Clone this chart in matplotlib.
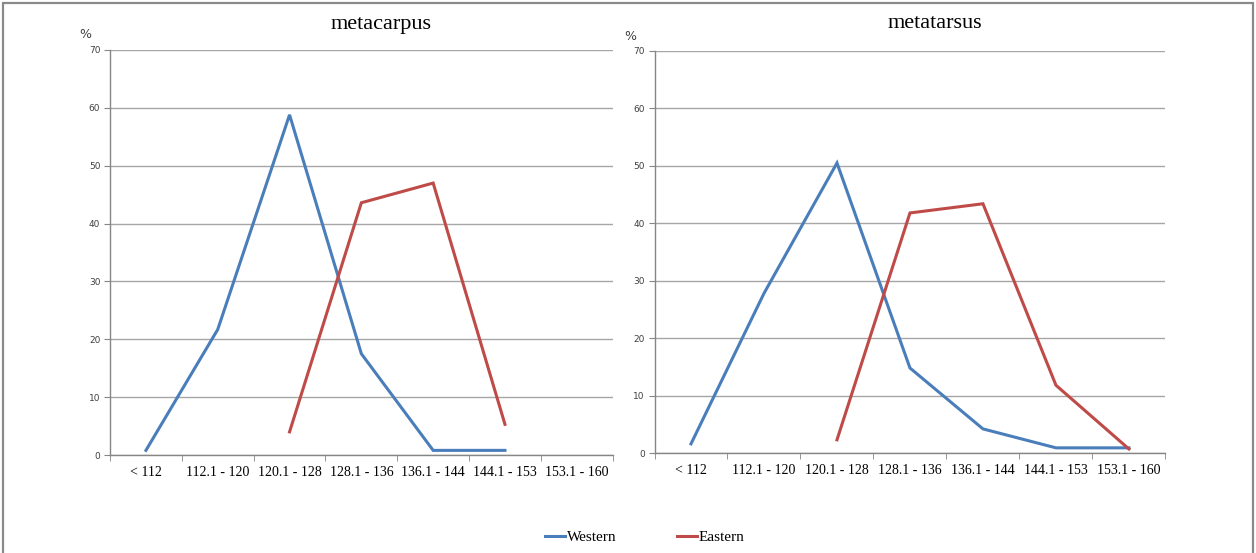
import numpy as np
import matplotlib
matplotlib.use("Agg")
import matplotlib.pyplot as plt
from matplotlib.patches import Rectangle
from matplotlib.lines import Line2D

categories = ['< 112', '112.1 - 120', '120.1 - 128', '128.1 - 136',
              '136.1 - 144', '144.1 - 153', '153.1 - 160']

# percentages per length class (None = no specimens in that class)
carpus_western = [0.8, 21.7, 58.8, 17.5, 0.8, 0.8, None]
carpus_eastern = [None, None, 4.0, 43.6, 47.0, 5.3, None]

tarsus_western = [1.6, 27.8, 50.5, 14.8, 4.2, 0.9, 0.9]
tarsus_eastern = [None, None, 2.3, 41.8, 43.4, 11.8, 0.7]

yticks = [0, 10, 20, 30, 40, 50, 60, 70]

BLUE = '#4a7ebb'
RED = '#be4b48'
GRID = '#a6a6a6'
SERIF = 'Liberation Serif'


def to_arr(vals):
    return np.array([np.nan if v is None else v for v in vals], dtype=float)


def draw_panel(ax, western, eastern):
    x = np.arange(len(categories))
    ax.plot(x, to_arr(western), color=BLUE, lw=2.2, solid_joinstyle='miter')
    ax.plot(x, to_arr(eastern), color=RED, lw=2.2, solid_joinstyle='miter')
    ax.set_xlim(-0.5, len(categories) - 0.5)
    ax.set_ylim(0, 70)
    ax.set_yticks(yticks)
    ax.set_yticklabels([str(t) for t in yticks], fontsize=6.5, color='#404040',
                       family='DejaVu Sans')
    ax.set_xticks(x)
    ax.set_xticklabels(categories, fontsize=10, family=SERIF)
    ax.set_xticks(np.arange(-0.5, len(categories)), minor=True)
    ax.tick_params(axis='x', which='major', length=0, pad=8)
    ax.tick_params(axis='x', which='minor', length=4, color='#868686', direction='out')
    ax.tick_params(axis='y', length=4, color='#868686', pad=3)
    ax.grid(axis='y', color=GRID, lw=1)
    ax.set_axisbelow(True)
    for s in ['top', 'right']:
        ax.spines[s].set_visible(False)
    for s in ['left', 'bottom']:
        ax.spines[s].set_color('#868686')
        ax.spines[s].set_linewidth(1)


fig = plt.figure(figsize=(12.56, 5.53), dpi=100)

ax1 = fig.add_axes([0.0876, 0.1772, 0.4002, 0.7324])
ax2 = fig.add_axes([0.5211, 0.1808, 0.4068, 0.7270])

draw_panel(ax1, carpus_western, carpus_eastern)
draw_panel(ax2, tarsus_western, tarsus_eastern)

fig.text(381 / 1256, 1 - 24 / 553, 'metacarpus', ha='center', va='center',
         fontsize=16, family=SERIF)
fig.text(935 / 1256, 1 - 24 / 553, 'metatarsus', ha='center', va='center',
         fontsize=16, family=SERIF)
fig.text(85 / 1256, 1 - 34 / 553, '%', ha='center', va='center', fontsize=9,
         color='#404040', family='DejaVu Sans')
fig.text(630 / 1256, 1 - 36 / 553, '%', ha='center', va='center', fontsize=9,
         color='#404040', family='DejaVu Sans')

handles = [Line2D([], [], color=BLUE, lw=2.2), Line2D([], [], color=RED, lw=2.2)]
fig.legend(handles, ['Western', 'Eastern'], loc='center', ncol=2,
           bbox_to_anchor=(645 / 1256, 1 - 537 / 553), frameon=False,
           prop={'family': SERIF, 'size': 11}, handlelength=1.3,
           handletextpad=0.15, columnspacing=3.9)

# outer frame
fig.patches.append(Rectangle((3 / 1256, -0.05), 1250 / 1256, 1.05 - 3 / 553,
                             transform=fig.transFigure, fill=False,
                             edgecolor='#8a8a8a', lw=1.6))

fig.savefig('out.png', dpi=100)
